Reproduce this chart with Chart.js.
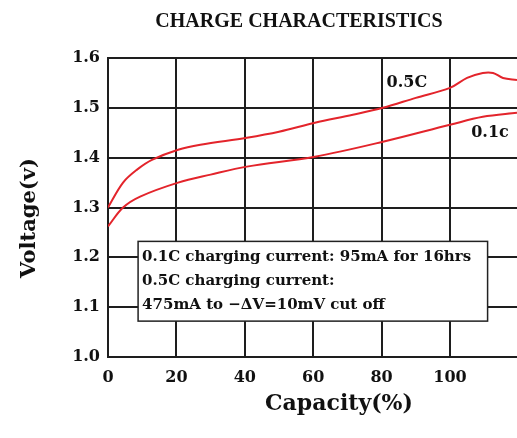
<!DOCTYPE html>
<html>
<head>
<meta charset="utf-8">
<script src="https://cdn.jsdelivr.net/npm/chart.js"></script>
<style>
body { margin: 0; background: #fff; }
#box { width: 517px; height: 438px; }
</style>
</head>
<body>
<div id="box"><canvas id="chargeChart" width="517" height="438"></canvas></div>
<script>
// values
var capacity05 = [0, 4.4, 8.5, 13, 20.5, 27, 40.6, 50, 60.5, 71.6, 80.4, 90, 100, 105, 109.6, 112.6, 115.5, 119.6];
var voltage05 = [1.30, 1.35, 1.376, 1.396, 1.416, 1.426, 1.44, 1.452, 1.47, 1.486, 1.50, 1.52, 1.54, 1.56, 1.57, 1.57, 1.56, 1.556];
var capacity01 = [0, 4.4, 9.4, 20.5, 30, 40.6, 60.5, 80.4, 100, 109.6, 119.6];
var voltage01 = [1.262, 1.30, 1.322, 1.35, 1.366, 1.382, 1.402, 1.432, 1.466, 1.482, 1.49];

var xTicks = [0, 20, 40, 60, 80, 100];
var yTicks = [1.0, 1.1, 1.2, 1.3, 1.4, 1.5, 1.6];

var seriesLabels = ["0.5C", "0.1c"];
var seriesLabelPos = [[87.4, 1.55], [111.7, 1.449]];

var noteLines = [
    "0.1C charging current: 95mA for 16hrs",
    "0.5C charging current:",
    "475mA to \u2212\u0394V=10mV cut off"
];
var noteBox = {x0: 8.8, x1: 111, y0: 1.232, y1: 1.072};

var chartTitle = "CHARGE CHARACTERISTICS";
var xTitle = "Capacity(%)";
var yTitle = "Voltage(v)";

function toPoints(xs, ys)
{
    var pts = [];
    for (var i = 0; i < xs.length; i++)
    {
        pts.push({x: xs[i], y: ys[i]});
    }
    return pts;
}

var lineColor = '#e3242b';
var gridColor = '#1e1e1e';
var serif = '"DejaVu Serif", serif';

var textPlugin = {
    id: 'texts',
    afterDatasetsDraw: function (chart) {
        var ctx = chart.ctx;
        var xs = chart.scales.x;
        var ys = chart.scales.y;
        ctx.save();

        // note box
        var bx = xs.getPixelForValue(noteBox.x0);
        var by = ys.getPixelForValue(noteBox.y0);
        var bw = xs.getPixelForValue(noteBox.x1) - bx;
        var bh = ys.getPixelForValue(noteBox.y1) - by;
        ctx.fillStyle = '#fff';
        ctx.fillRect(bx, by, bw, bh);
        ctx.strokeStyle = '#222';
        ctx.lineWidth = 1.5;
        ctx.strokeRect(bx, by, bw, bh);
        ctx.fillStyle = '#111';
        ctx.font = 'bold 15px ' + serif;
        ctx.textAlign = 'left';
        ctx.textBaseline = 'middle';
        for (var i = 0; i < noteLines.length; i++)
        {
            ctx.fillText(noteLines[i], bx + 4, by + 16 + i * 24);
        }

        // curve labels
        ctx.font = 'bold 16px ' + serif;
        ctx.textAlign = 'center';
        for (var j = 0; j < seriesLabels.length; j++)
        {
            ctx.fillText(seriesLabels[j], xs.getPixelForValue(seriesLabelPos[j][0]), ys.getPixelForValue(seriesLabelPos[j][1]));
        }

        // titles
        ctx.font = 'bold 20px "Liberation Serif", serif';
        ctx.fillText(chartTitle, 299, 22);
        ctx.font = 'bold 22px ' + serif;
        ctx.fillText(xTitle, 339, 404);
        ctx.translate(30, 218);
        ctx.rotate(-Math.PI / 2);
        ctx.font = 'bold 21px ' + serif;
        ctx.fillText(yTitle, 0, 0);
        ctx.restore();
    }
};

var chargeChart = new Chart(document.getElementById('chargeChart'), {
    type: 'scatter',
    data: {
        datasets: [
            {
                label: seriesLabels[0],
                data: toPoints(capacity05, voltage05),
                showLine: true,
                borderColor: lineColor,
                borderWidth: 2,
                pointRadius: 0,
                tension: 0.35
            },
            {
                label: seriesLabels[1],
                data: toPoints(capacity01, voltage01),
                showLine: true,
                borderColor: lineColor,
                borderWidth: 2,
                pointRadius: 0,
                tension: 0.35
            }
        ]
    },
    options: {
        responsive: false,
        animation: false,
        layout: {
            padding: {top: 58, right: 0, left: 0, bottom: 0}
        },
        plugins: {
            legend: {display: false},
            tooltip: {enabled: false},
            title: {display: false}
        },
        scales: {
            x: {
                type: 'linear',
                min: 0,
                max: 119.6,
                afterFit: function (scale) { scale.height = 81; },
                afterBuildTicks: function (scale) {
                    scale.ticks = xTicks.map(function (v) { return {value: v}; });
                },
                grid: {color: gridColor, lineWidth: 2, drawTicks: false},
                border: {display: true, color: gridColor, width: 2},
                ticks: {
                    padding: 11,
                    color: '#111',
                    font: {family: serif, weight: 'bold', size: 16}
                }
            },
            y: {
                min: 1.0,
                max: 1.6,
                afterFit: function (scale) { scale.width = 108; },
                afterBuildTicks: function (scale) {
                    scale.ticks = yTicks.map(function (v) { return {value: v}; });
                },
                grid: {color: gridColor, lineWidth: 2, drawTicks: false},
                border: {display: true, color: gridColor, width: 2},
                ticks: {
                    padding: 8,
                    color: '#111',
                    font: {family: serif, weight: 'bold', size: 16},
                    callback: function (v) { return v.toFixed(1); }
                }
            }
        }
    },
    plugins: [textPlugin]
});
</script>
</body>
</html>
